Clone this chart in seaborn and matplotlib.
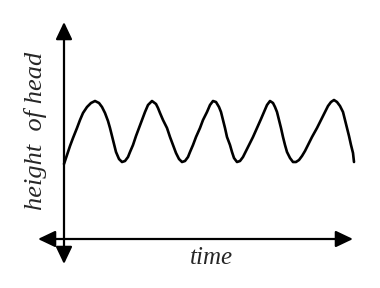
import matplotlib
matplotlib.use("Agg")
import matplotlib.pyplot as plt
from matplotlib.patches import FancyArrowPatch, ArrowStyle
import seaborn as sns
import pandas as pd

# Values (time, height of head)
time = [0, 3, 6, 9, 13, 16, 19, 23, 27, 31, 35, 38, 41, 44, 46, 48, 50, 52, 55, 58,
        61, 64, 66, 69, 72, 75, 78, 81, 84, 88, 92, 94, 96, 99, 103, 106, 109, 112, 115, 118,
        121, 124, 126, 129, 132, 136, 139, 143, 146, 149, 152, 155, 157, 159, 161, 163, 166, 168, 170, 173,
        176, 179, 182, 185, 189, 193, 197, 200, 203, 206, 209, 211, 213, 215, 217, 219, 221, 223, 226, 229,
        232, 235, 238, 241, 244, 248, 253, 257, 261, 264, 267, 270, 273, 276, 279, 281, 283, 285, 287, 289, 290]
height = [74, 83, 92, 100, 110, 118, 125, 131, 135, 137, 135, 131, 125, 117, 110, 102, 94, 86, 79, 76,
          77, 81, 86, 93, 102, 110, 118, 126, 133, 137, 134, 130, 125, 118, 110, 101, 93, 85, 79, 76,
          77, 81, 86, 93, 101, 110, 118, 126, 133, 137, 136, 131, 126, 118, 110, 101, 93, 86, 80, 76,
          77, 81, 87, 93, 101, 110, 119, 126, 133, 137, 135, 131, 126, 118, 110, 101, 93, 86, 80, 76,
          76, 78, 82, 87, 93, 101, 110, 118, 126, 132, 136, 138, 136, 132, 126, 118, 110, 102, 93, 85, 76]

x_label = "time"
y_label = "height  of head"

df = pd.DataFrame({"time": time, "height": height})

sns.set_theme(style="white")
plt.rcParams["font.family"] = ["Liberation Serif", "DejaVu Serif"]

fig = plt.figure(figsize=(3.8, 2.88), dpi=100)
ax = fig.add_axes([0, 0, 1, 1])
ax.set_xlim(-64, 316)
ax.set_ylim(-50, 238)

sns.lineplot(data=df, x="time", y="height", ax=ax, color="black", lw=1.9,
             sort=False, estimator=None, solid_joinstyle="round", solid_capstyle="round")

style = ArrowStyle("<|-|>", head_length=10.5, head_width=5.0)
ax.add_patch(FancyArrowPatch((0, -26), (0, 216), arrowstyle=style, mutation_scale=1,
                             color="black", lw=1.6, shrinkA=0, shrinkB=0))
ax.add_patch(FancyArrowPatch((-26, -1), (289, -1), arrowstyle=style, mutation_scale=1,
                             color="black", lw=1.6, shrinkA=0, shrinkB=0))

ax.text(147, -20, x_label, fontsize=18, fontstyle="italic", ha="center", va="center")
ax.text(-28, 107, y_label, fontsize=19, fontstyle="italic", rotation=90,
        ha="center", va="center")

ax.set_xlabel("")
ax.set_ylabel("")
ax.set_xticks([])
ax.set_yticks([])
for s in ax.spines.values():
    s.set_visible(False)

fig.savefig("out.png", dpi=100, facecolor="white")
